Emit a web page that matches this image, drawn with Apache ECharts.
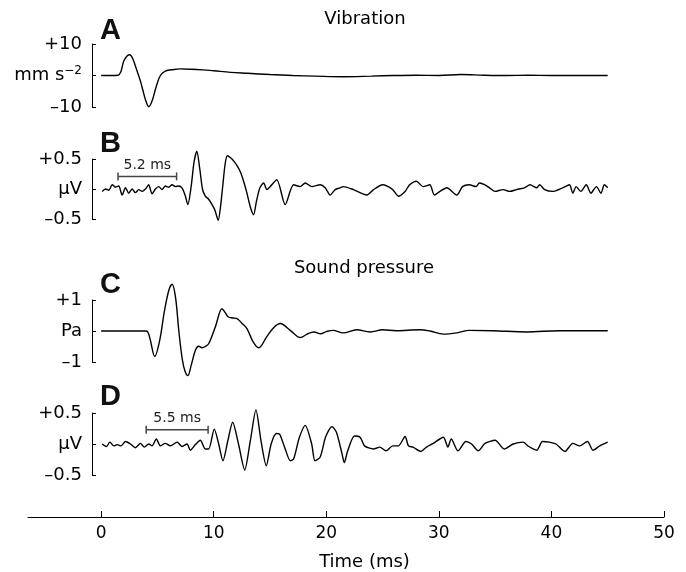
<!DOCTYPE html>
<html><head><meta charset="utf-8">
<script src="https://cdn.jsdelivr.net/npm/echarts@6/dist/echarts.min.js"></script>
<style>html,body{margin:0;padding:0;background:#fff}#c{width:686px;height:572px}</style>
</head><body><div id="c"></div>
<script>
// ---------- DATA ----------
// Panel A: vibration (mm s^-2)
const tA = [0,0.8,1.5,1.75,2.0,2.3,2.54,2.8,3.04,3.25,3.49,3.7,3.93,4.23,4.52,4.9,5.26,5.7,6.45,7.0,8.0,9.0,10.0,11.5,13.0,15.0,17.0,19.0,21.5,24.0,26.0,28.0,30.0,32.0,34.0,36.0,38.0,40.0,42.0,45.0];
const vA = [0,0,0.1,1.2,4.5,6.2,6.6,5.4,3.0,0.8,-1.8,-4.6,-7.6,-9.9,-8.1,-3.4,0,1.4,1.9,2.1,2.0,1.8,1.5,1.0,0.7,0.3,0.0,-0.2,-0.4,-0.2,0.0,0.1,0.0,0.3,0.1,0.0,0.1,0.0,0.0,0.0];
// Panel B: response to vibration (uV)
const tB = [0.09,0.38,0.68,0.98,1.27,1.56,1.86,2.16,2.45,2.75,3.04,3.34,3.64,3.93,4.22,4.52,4.82,5.11,5.41,5.7,6.0,6.3,6.59,6.89,7.18,7.45,7.7,8.0,8.25,8.5,8.75,9.0,9.25,9.55,9.85,10.1,10.4,10.6,10.8,11.0,11.2,11.5,11.8,12.1,12.4,12.7,12.95,13.25,13.54,13.8,14.1,14.43,14.73,15.02,15.6,16.35,17.09,17.68,18.13,18.72,19.46,19.9,20.35,20.79,21.23,21.5,22.4,23.6,24.2,25.0,25.9,26.4,27.0,27.4,28.0,28.6,29.2,29.6,30.1,30.7,31.6,32.1,32.7,33.3,33.6,34.1,34.5,35.0,35.7,36.3,36.9,37.6,38.1,38.7,38.95,39.4,40.1,41.0,41.6,41.9,42.2,42.6,43.1,43.5,44.0,44.4,44.7,45.0];
const vB = [-0.04,0,-0.02,0.07,0.03,0.05,-0.1,0.02,-0.07,0,-0.06,-0.01,-0.04,0,0.07,-0.08,0,0.04,-0.01,0.05,0.03,0.07,0.04,0.05,0.02,-0.1,-0.26,0.05,0.45,0.63,0.35,0.0,-0.12,-0.17,-0.26,-0.35,-0.52,-0.3,0.05,0.4,0.555,0.52,0.46,0.38,0.27,0.1,-0.07,-0.3,-0.43,-0.2,0.02,0.1,-0.01,0.04,0.155,-0.26,0.07,0.04,0.1,0.04,0.07,0.02,-0.1,-0.01,0.02,0.04,-0.01,-0.1,-0.01,0.07,-0.01,-0.12,-0.04,0.07,0.13,0.04,0.07,-0.1,-0.04,0.02,-0.1,0.04,0.07,0.04,0.1,0.07,0.02,-0.04,-0.01,-0.04,-0.01,0.02,0.07,0.02,0.07,-0.01,-0.04,0.02,0.07,-0.07,0.04,-0.04,0.07,-0.07,0.04,-0.07,0.07,0.02];
// Panel C: sound pressure (Pa)
const tC = [0,4.0,4.3,4.76,5.2,5.6,6.0,6.3,6.6,6.9,7.2,7.45,7.7,8.0,8.37,8.66,8.96,9.25,9.55,10.14,10.74,11.0,11.3,11.7,12.07,12.5,12.95,13.5,14.0,14.7,15.3,15.9,16.8,17.7,18.3,18.9,19.5,20.0,20.6,21.5,22.7,23.9,25.0,26.2,28.3,29.2,30.4,31.6,32.7,34.8,37.8,40.7,45.0];
const vC = [0,0,-0.2,-0.82,-0.3,0.6,1.3,1.51,1.1,0,-0.9,-1.3,-1.44,-1.1,-0.62,-0.49,-0.54,-0.5,-0.41,0.13,0.72,0.6,0.45,0.42,0.4,0.25,0.08,-0.35,-0.54,-0.19,0.1,0.24,0.02,-0.21,-0.1,-0.03,-0.09,-0.02,0.02,-0.06,0.04,-0.03,0.04,0.01,0.04,0,-0.1,-0.06,0.02,0.01,-0.03,0.01,0.01];
// Panel D: response to sound (uV)
const tD = [0.09,0.47,0.77,1.12,1.42,1.77,2.16,2.6,3.04,3.49,3.84,4.23,4.52,4.9,5.26,5.7,6.15,6.74,7.18,7.63,7.92,8.37,8.81,9.25,9.55,10.05,10.44,10.82,11.25,11.68,12.2,12.75,13.25,13.75,14.2,14.67,15.1,15.56,15.85,16.35,16.8,17.1,17.6,18.13,18.7,19.0,19.46,19.95,20.5,20.9,21.4,21.6,21.9,22.5,23.0,23.4,24.2,24.75,25.3,25.9,26.4,27.0,27.3,27.7,28.4,28.9,29.5,30.4,30.8,31.1,31.7,32.4,32.9,33.5,34.1,35.0,35.8,36.6,37.5,37.9,38.7,39.2,39.8,40.4,41.2,41.9,42.5,43.2,43.7,44.3,45.0];
const vD = [0,-0.04,0.03,-0.03,-0.01,-0.03,0.04,0,-0.06,0.01,-0.05,0,-0.03,0.08,-0.03,0.01,-0.03,0.03,-0.04,0,-0.1,-0.01,0.06,-0.08,-0.08,0.24,0.0,-0.27,0.05,0.35,0.0,-0.42,0.05,0.55,0.05,-0.35,0.0,0.17,0.16,-0.08,-0.27,-0.24,0.1,0.3,0.0,-0.27,-0.21,0.12,0.28,0.19,-0.16,-0.3,-0.11,0.13,0.11,-0.03,-0.08,-0.05,-0.11,-0.03,-0.03,0.12,-0.03,-0.05,-0.12,-0.05,0.01,0.11,-0.05,0.08,-0.11,0.04,0,-0.11,0.01,0.06,-0.08,0,0.03,-0.03,-0.1,0.04,0.03,0,-0.12,0.01,-0.03,0.04,-0.1,-0.03,0.03];

const panelLetters = ['A','B','C','D'];
const panelTitles = ['Vibration','Sound pressure'];
const yLimits = [10, 0.5, 1, 0.5];
const yTopLabels = ['+10','+0.5','+1','+0.5'];
const yUnitLabels = ['mm s{sup|−2}','μV','Pa','μV'];
const yBottomLabels = ['–10','–0.5','–1','–0.5'];
const xTicks = [0,10,20,30,40,50];
const xName = 'Time (ms)';
// scale bars: [start ms, length ms, level (uV)]
const scaleBarB = [1.5, 5.2, 0.21];
const scaleBarD = [4.0, 5.5, 0.23];

// ---------- LAYOUT ----------
const W = 686, RIGHT = 22, XLEFT = 28, XMIN = -6.5, XMAX = 50;
const PANEL_LEFT = 92;
const pxPerMs = (W - RIGHT - XLEFT) / (XMAX - XMIN);
const panelXMin = XMIN + (PANEL_LEFT - XLEFT) / pxPerMs;
const panelBoxes = [{top:44,height:63},{top:159,height:60},{top:300,height:62},{top:413,height:62}];
const FONT = '"DejaVu Sans", sans-serif';
const smoothness = [0.35, 0.25, 0.35, 0.25];

const zip = (t, v) => t.map((x, i) => [x, v[i]]);
const seriesData = [zip(tA, vA), zip(tB, vB), zip(tC, vC), zip(tD, vD)];

const grid = panelBoxes.map(b => ({left: PANEL_LEFT, right: RIGHT, top: b.top, height: b.height}));
grid.push({left: XLEFT, right: RIGHT, top: 467, height: 50});

const xAxis = panelBoxes.map((b, i) => ({type:'value', gridIndex:i, min: panelXMin, max: XMAX, show:false}));
xAxis.push({
  type:'value', gridIndex:4, min: XMIN, max: XMAX, position:'bottom',
  axisLine:{show:true, onZero:false, lineStyle:{color:'#000', width:1}},
  axisTick:{show:true, inside:true, length:6, customValues: xTicks, lineStyle:{color:'#000', width:1}},
  axisLabel:{show:true, customValues: xTicks, margin:8, color:'#000', fontSize:17, fontFamily:FONT},
  splitLine:{show:false}
});

const yAxis = panelBoxes.map((b, i) => ({
  type:'value', gridIndex:i, min:-yLimits[i], max:yLimits[i], interval:yLimits[i], position:'left',
  axisLine:{show:true, onZero:false, lineStyle:{color:'#000', width:1}},
  axisTick:{show:true, inside:true, length:4, lineStyle:{color:'#000', width:1}},
  splitLine:{show:false},
  axisLabel:{
    show:true, margin:10, color:'#000', fontSize:18, fontFamily:FONT,
    showMinLabel:true, showMaxLabel:true,
    formatter: v => v > 0 ? yTopLabels[i] : (v < 0 ? yBottomLabels[i] : yUnitLabels[i]),
    rich:{sup:{fontSize:12, fontFamily:FONT, color:'#000', padding:[0,0,10,0]}}
  }
}));
yAxis.push({type:'value', gridIndex:4, min:0, max:1, show:false});

const series = seriesData.map((d, i) => ({
  type:'line', xAxisIndex:i, yAxisIndex:i, data:d, showSymbol:false, smooth:smoothness[i],
  clip:false, lineStyle:{color:'#000', width:1.4}, silent:true, animation:false
}));

function barSeries(bar, axisIdx) {
  const label = bar[1] + ' ms';
  return {
    type:'custom', xAxisIndex:axisIdx, yAxisIndex:axisIdx, clip:false, silent:true, animation:false,
    data:[[bar[0], bar[0] + bar[1], bar[2]]],
    encode:{x:[0,1], y:2},
    renderItem:(params, api) => {
      const s = api.coord([api.value(0), api.value(2)]);
      const e = api.coord([api.value(1), api.value(2)]);
      const h = 4, st = {stroke:'#444', lineWidth:1.5};
      return {type:'group', children:[
        {type:'line', shape:{x1:s[0], y1:s[1], x2:e[0], y2:e[1]}, style:st},
        {type:'line', shape:{x1:s[0], y1:s[1]-h, x2:s[0], y2:s[1]+h}, style:st},
        {type:'line', shape:{x1:e[0], y1:e[1]-h, x2:e[0], y2:e[1]+h}, style:st},
        {type:'text', x:(s[0]+e[0])/2, y:s[1]-11,
         style:{text:label, align:'center', verticalAlign:'middle', font:'14px ' + FONT, fill:'#222'}}
      ]};
    }
  };
}
series.push(barSeries(scaleBarB, 1));
series.push(barSeries(scaleBarD, 3));

const letterPos = [[100,31],[100,144],[100,285],[100,397]];
const graphic = [];
panelLetters.forEach((L, i) => graphic.push({
  type:'text', x:letterPos[i][0], y:letterPos[i][1],
  style:{text:L, font:'bold 29px "Liberation Sans", Arial, sans-serif', fill:'#111', align:'left', verticalAlign:'middle'}
}));
const titlePos = [[365,19],[364,268]];
panelTitles.forEach((t, i) => graphic.push({
  type:'text', x:titlePos[i][0], y:titlePos[i][1],
  style:{text:t, font:'18px ' + FONT, fill:'#000', align:'center', verticalAlign:'middle'}
}));
graphic.push({type:'text', x:364.5, y:562,
  style:{text:xName, font:'18px ' + FONT, fill:'#000', align:'center', verticalAlign:'middle'}});

const chart = echarts.init(document.getElementById('c'), null, {renderer:'canvas'});
chart.setOption({animation:false, backgroundColor:'#fff', grid, xAxis, yAxis, series, graphic});
</script>
</body></html>
